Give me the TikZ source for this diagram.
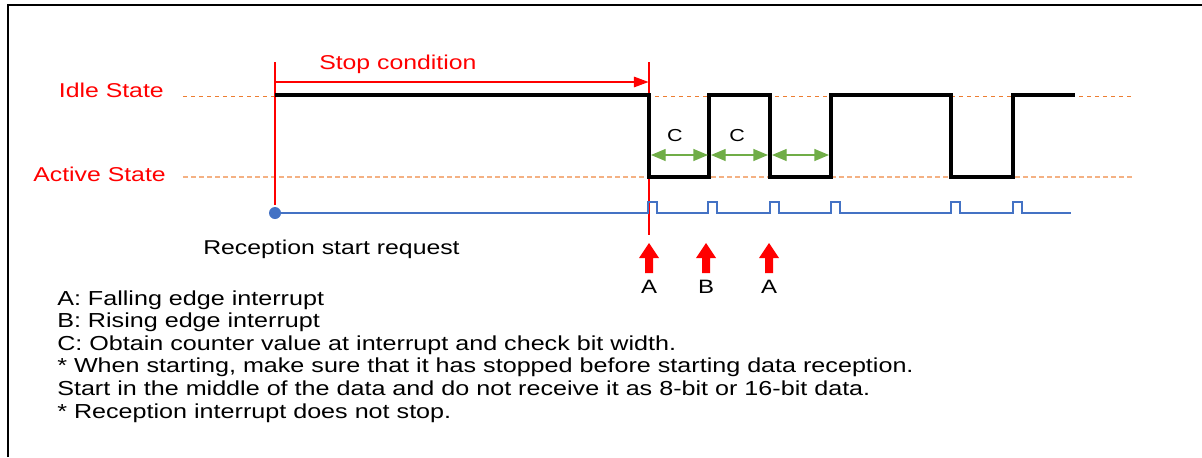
\documentclass[tikz,border=0pt]{standalone}
\usepackage{fontspec}
\setmainfont{Liberation Sans}[FakeStretch=1.24]
\usetikzlibrary{arrows.meta}
\definecolor{myred}{RGB}{255,0,0}
\definecolor{myblue}{RGB}{68,114,196}
\definecolor{mygreen}{RGB}{112,173,71}
\definecolor{idleor}{RGB}{237,125,49}
\definecolor{actor}{RGB}{244,177,131}
\begin{document}
\begin{tikzpicture}[x=0.75pt,y=-0.75pt,
  redlab/.style={text=myred,inner sep=0pt,font=\fontsize{15}{18}\selectfont},
  blacklab/.style={text=black,inner sep=0pt,font=\fontsize{15}{18}\selectfont},
  letterlab/.style={text=black,inner sep=0pt,font=\fontsize{14.5}{17}\selectfont},
  clab/.style={text=black,inner sep=0pt,font=\fontsize{13}{15}\selectfont},
  legend/.style={text=black,inner sep=0pt,anchor=base west,font=\fontsize{15.2}{18}\selectfont},
  redline/.style={draw=myred,line width=0.8pt},
  idledash/.style={draw=idleor,line width=0.7pt,dash pattern=on 3pt off 3pt},
  actdash/.style={draw=actor,line width=0.8pt,dash pattern=on 3.8pt off 2.2pt},
  signal/.style={draw=black,line width=3.2pt,line join=miter},
  bluesig/.style={draw=myblue,line width=1.1pt},
  greenarr/.style={draw=mygreen,line width=1pt,{Triangle[length=11pt,width=9pt]}-{Triangle[length=11pt,width=9pt]}},
  bigarrow/.style={fill=myred}
]
\useasboundingbox (0,0) rectangle (1202,457);
% frame
\draw[line width=2pt] (8,457) -- (8,5) -- (1202,5);

% state labels and reference lines
\node[redlab,anchor=base east] (idle) at (164,97.5) {Idle State};
\node[redlab,anchor=base east] (active) at (166,181) {Active State};
\coordinate (idleS) at (183,96);
\coordinate (idleE) at (1133,96);
\coordinate (actS) at (183,177);
\coordinate (actE) at (1133,177);
\draw[idledash] (idleS) -- (idleE);
\draw[actdash] (actS) -- (actE);

% red markers
\coordinate (r1t) at (275,62);
\coordinate (r1b) at (275,205);
\coordinate (r2t) at (649,62);
\coordinate (r2b) at (649,235);
\draw[redline] (r1t) -- (r1b);
\draw[redline] (r2t) -- (r2b);
\coordinate (stopS) at (275,82);
\coordinate (stopE) at (648.5,82);
\draw[redline,-{Triangle[length=11pt,width=8pt]}] (stopS) -- (stopE);
\node[redlab,anchor=base west] (stop) at (319,69) {Stop condition};

% data signal
\coordinate (sig0) at (275,95);
\draw[signal] (sig0) -| (649,177) -| (709,95) -| (770,177) -| (831,95)
  -| (951,177) -| (1013,95) -- (1075,95);

% interrupt signal
\coordinate (b0) at (275,213);
\fill[myblue] (b0) circle (4.5pt);
\draw[bluesig] (b0)
  -- (648,213) -- (648,202) -- (657,202) -- (657,213)
  -- (708,213) -- (708,202) -- (717,202) -- (717,213)
  -- (770,213) -- (770,202) -- (779,202) -- (779,213)
  -- (831,213) -- (831,202) -- (840,202) -- (840,213)
  -- (951,213) -- (951,202) -- (960,202) -- (960,213)
  -- (1013,213) -- (1013,202) -- (1022,202) -- (1022,213)
  -- (1071,213);
\node[blacklab,anchor=base west] (rsr) at (203,254) {Reception start request};

% bit width arrows
\coordinate (g1a) at (651,155);
\coordinate (g1b) at (708,155);
\coordinate (g2a) at (711,155);
\coordinate (g2b) at (768,155);
\coordinate (g3a) at (772,155);
\coordinate (g3b) at (829,155);
\draw[greenarr] (g1a) -- (g1b);
\draw[greenarr] (g2a) -- (g2b);
\draw[greenarr] (g3a) -- (g3b);
\node[clab,anchor=base] (c1) at (675,141.5) {C};
\node[clab,anchor=base] (c2) at (737,141.5) {C};

% interrupt arrows
\foreach \x/\l/\n in {649/A/a1,706/B/b1,769/A/a2}{
  \fill[bigarrow] (\x-4,273) -- (\x-4,258) -- (\x-10,258) -- (\x,243)
     -- (\x+10,258) -- (\x+4,258) -- (\x+4,273) -- cycle;
  \node[letterlab,anchor=base] (\n) at (\x,293) {\l};
}

% legend
\node[legend] (l1) at (57,305) {A: Falling edge interrupt};
\node[legend] (l2) at (57,327.6) {B: Rising edge interrupt};
\node[legend] (l3) at (57,350.2) {C: Obtain counter value at interrupt and check bit width.};
\node[legend] (l4) at (57,372.8) {* When starting, make sure that it has stopped before starting data reception.};
\node[legend] (l5) at (57,395.4) {Start in the middle of the data and do not receive it as 8-bit or 16-bit data.};
\node[legend] (l6) at (57,418) {* Reception interrupt does not stop.};
\end{tikzpicture}
\end{document}
